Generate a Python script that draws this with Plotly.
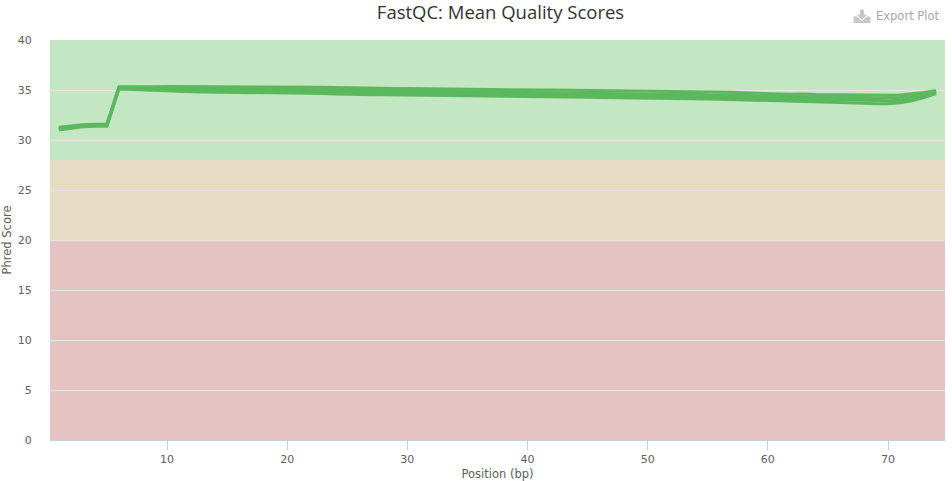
import plotly.graph_objects as go

positions = list(range(1, 75))
top = [31.27,31.4,31.52,31.57,31.6,35.32,35.32,35.25,35.32,35.34,35.34,35.34,35.34,35.34,35.34,35.34,35.33,35.32,35.31,35.3,
       35.3,35.29,35.27,35.25,35.22,35.2,35.19,35.18,35.16,35.15,35.13,35.12,35.1,35.09,35.07,35.05,35.04,35.03,35.02,35.01,
       35.0,34.99,34.98,34.97,34.95,34.9,34.87,34.89,34.9,34.88,34.84,34.87,34.88,34.86,34.8,34.8,34.77,34.72,34.66,34.64,
       34.6,34.58,34.61,34.56,34.54,34.5,34.52,34.52,34.47,34.47,34.5,34.6,34.75,34.95]
upper_mid = [31.2,31.32,31.46,31.5,31.53,35.25,35.24,35.17,35.18,35.16,35.15,35.14,35.14,35.13,35.13,35.13,35.12,35.11,35.1,35.09,
             35.08,35.07,35.05,35.02,34.98,34.96,34.94,34.93,34.91,34.9,34.88,34.87,34.85,34.84,34.82,34.8,34.79,34.78,34.77,34.76,
             34.74,34.73,34.72,34.71,34.7,34.66,34.63,34.64,34.64,34.62,34.58,34.6,34.6,34.57,34.52,34.51,34.49,34.45,34.4,34.39,
             34.35,34.33,34.34,34.3,34.27,34.24,34.26,34.25,34.2,34.2,34.24,34.35,34.58,34.85]
lower_mid = [31.12,31.25,31.4,31.44,31.46,35.18,35.14,35.09,35.05,35.0,34.98,34.97,34.96,34.95,34.95,34.95,34.93,34.92,34.91,34.9,
             34.88,34.87,34.84,34.81,34.77,34.74,34.72,34.71,34.69,34.68,34.65,34.64,34.62,34.61,34.59,34.57,34.56,34.55,34.54,34.53,
             34.51,34.5,34.49,34.48,34.47,34.44,34.42,34.42,34.41,34.39,34.36,34.36,34.35,34.33,34.29,34.28,34.26,34.23,34.19,34.18,
             34.15,34.12,34.12,34.08,34.05,34.01,34.0,33.97,33.92,33.92,33.98,34.13,34.4,34.75]
bottom = [31.0,31.17,31.33,31.37,31.38,35.1,35.05,35.0,34.92,34.85,34.83,34.82,34.81,34.8,34.78,34.77,34.76,34.75,34.74,34.72,
          34.7,34.68,34.64,34.6,34.56,34.54,34.53,34.52,34.51,34.5,34.47,34.45,34.43,34.41,34.39,34.37,34.36,34.35,34.34,34.33,
          34.32,34.31,34.3,34.29,34.28,34.26,34.25,34.24,34.23,34.22,34.2,34.17,34.14,34.12,34.1,34.08,34.05,34.02,33.99,33.96,
          33.94,33.92,33.89,33.86,33.82,33.78,33.73,33.68,33.63,33.63,33.72,33.93,34.25,34.65]
series = [top, upper_mid, lower_mid, bottom]

band_edges = [(28, 40), (20, 28), (0, 20)]
band_colours = ["#c3e6c3", "#e6dcc3", "#e6c3c3"]
x_ticks = [10, 20, 30, 40, 50, 60, 70]
y_ticks = [0, 5, 10, 15, 20, 25, 30, 35, 40]
FONT = "DejaVu Sans"
GREY = "#606060"

fig = go.Figure()
for s in series:
    fig.add_trace(go.Scatter(x=positions, y=s, mode="lines", showlegend=False, hoverinfo="skip",
                             line=dict(color="#5cb85c", width=3)))

for (a, b), c in zip(band_edges, band_colours):
    fig.add_shape(type="rect", layer="below", xref="paper", yref="y", x0=0, x1=1, y0=a, y1=b,
                  fillcolor=c, line=dict(width=0))

# decorative download icon beside "Export Plot" (not data); page pixels to paper fractions
def px(x): return (x - 50) / 895
def py(y): return (440 - y) / 400
def path(points):
    return "M " + " L ".join(f"{px(x):.5f} {py(y):.5f}" for x, y in points) + " Z"
icon_colour = "#c8c8c8"
fig.add_shape(type="path", xref="paper", yref="paper", fillcolor=icon_colour, line=dict(width=0),
              path=path([(860, 9.5), (864, 9.5), (864, 14.5), (867.5, 14.5), (862, 20), (856.5, 14.5), (860, 14.5)]))
fig.add_shape(type="path", xref="paper", yref="paper", fillcolor=icon_colour, line=dict(width=0),
              path=path([(853.5, 16.5), (857, 16.5), (862, 21), (867, 16.5), (870.5, 16.5), (870.5, 23), (853.5, 23)]))

fig.update_layout(
    width=952, height=481,
    margin=dict(l=50, r=7, t=40, b=41, autoexpand=False),
    paper_bgcolor="white", plot_bgcolor="white",
    font=dict(family=FONT, size=11, color=GREY),
    title=dict(text="FastQC: Mean Quality Scores", x=px(500.5), xanchor="center", xref="paper",
               y=0.975, yanchor="middle", font=dict(family="Open Sans", size=18.5, color="#333333")),
    xaxis=dict(range=[0.264, 74.74], tickvals=x_ticks, showgrid=False, zeroline=False, automargin=False,
               showline=True, linecolor="#c0d0e0", linewidth=1,
               ticks="outside", ticklen=9, tickcolor="#c0d0e0", tickwidth=1,
               tickfont=dict(family=FONT, size=11, color=GREY),
               title=dict(text="Position (bp)", standoff=8, font=dict(size=11.5, color=GREY))),
    yaxis=dict(range=[0, 40], tickvals=y_ticks, showgrid=True, gridcolor="#e6e6e6", gridwidth=1,
               zeroline=False, ticks="outside", ticklen=15, tickcolor="rgba(0,0,0,0)", automargin=False,
               layer="below traces",
               tickfont=dict(family=FONT, size=11, color=GREY),
               title=dict(text="Phred Score", standoff=7, font=dict(size=11.5, color=GREY))),
    annotations=[dict(text="Export Plot", xref="paper", yref="paper", x=px(941), y=py(16.5),
                      xanchor="right", yanchor="middle", showarrow=False,
                      font=dict(family=FONT, size=11.5, color="#a8a8a8"))],
)
fig.write_html("out.html", config=dict(displayModeBar=False),
               post_script="document.body.style.margin='0';document.body.style.overflow='hidden';")
